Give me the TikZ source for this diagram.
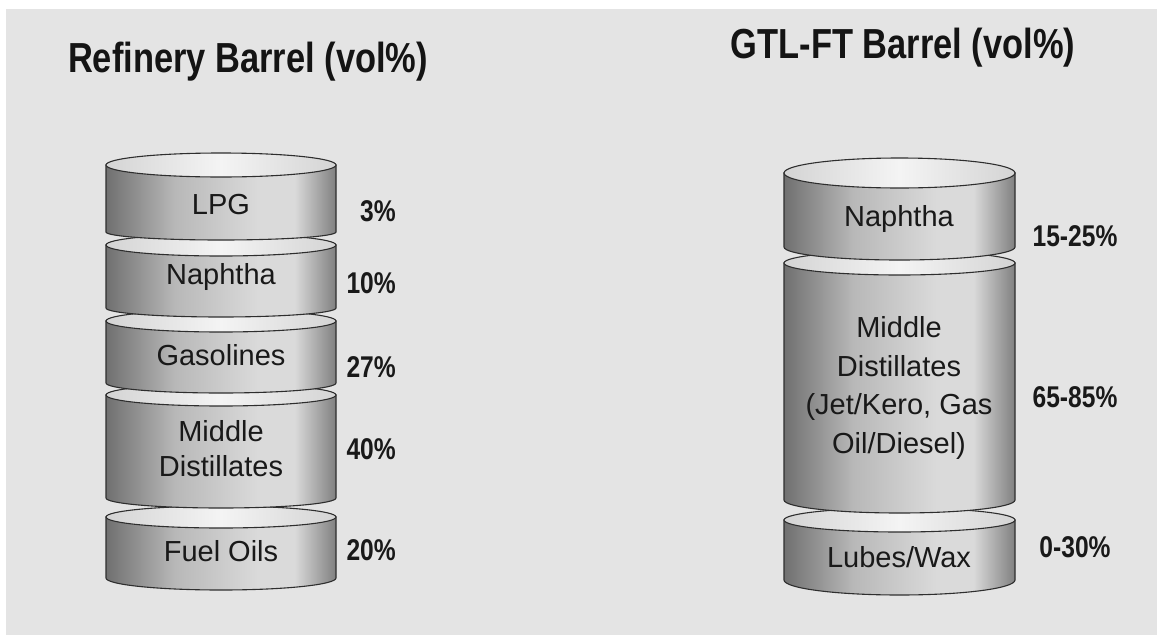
\documentclass[tikz,border=0pt]{standalone}
\usepackage{fontspec}
\setmainfont{Liberation Sans}
\newfontfamily\narrowfont[FakeStretch=0.82]{Liberation Sans}
\definecolor{bgc}{HTML}{E4E4E4}
\definecolor{sideL}{HTML}{707070}
\definecolor{sideM}{HTML}{B8B8B8}
\definecolor{sideH}{HTML}{DADADA}
\definecolor{sideR}{HTML}{808080}
\definecolor{topL}{HTML}{D4D4D4}
\definecolor{topH}{HTML}{F4F4F4}
\definecolor{edgec}{HTML}{2E2E2E}
\pgfdeclarehorizontalshading{barrelshade}{100bp}{color(0bp)=(sideL); color(25bp)=(sideL); color(40bp)=(sideM); color(58bp)=(sideH); color(66bp)=(sideH); color(75bp)=(sideR); color(100bp)=(sideR)}
\pgfdeclarehorizontalshading{topshade}{100bp}{color(0bp)=(topL); color(25bp)=(topL); color(50bp)=(topH); color(75bp)=(topL); color(100bp)=(topL)}
\tikzset{
  sidepart/.style={shading=barrelshade, draw=edgec, line width=1.1pt},
  toppart/.style={shading=topshade, draw=edgec, line width=1.1pt},
  lbl/.style={font=\fontsize{29}{35}\selectfont, text=black!90, align=center, inner sep=0pt},
  pct/.style={font=\narrowfont\bfseries\fontsize{30}{34}\selectfont, text=black!90, inner sep=0pt},
  ttl/.style={font=\narrowfont\bfseries\fontsize{42}{46}\selectfont, text=black!92, inner sep=0pt}
}
% #1 xL, #2 xR, #3 top centre y, #4 bottom side y, #5 top ry, #6 bottom ry
\newcommand{\barrelseg}[6]{%
  \pgfmathsetmacro{\rxx}{(#2-#1)/2}%
  \pgfmathsetmacro{\xcc}{(#1+#2)/2}%
  \path[sidepart] (#1,#3) -- (#1,#4) arc[start angle=180, end angle=360, x radius=\rxx pt, y radius=#6pt] -- (#2,#3) -- cycle;
  \path[toppart] (\xcc,#3) ellipse[x radius=\rxx pt, y radius=#5pt];
}
\begin{document}
\begin{tikzpicture}[x=1pt, y=-1pt]
\useasboundingbox (0,0) rectangle (1157,635);
\fill[white] (0,0) rectangle (1157,635);
\fill[bgc] (6,9) rectangle (1157,635);

% Left barrel (bottom segment first)
\barrelseg{106}{336}{517}{578}{11}{12}
\barrelseg{106}{336}{395}{498}{11}{10}
\barrelseg{106}{336}{321}{383}{11}{10}
\barrelseg{106}{336}{245}{308}{11}{9}
\barrelseg{106}{336}{165}{232}{12}{8}

% Right barrel
\barrelseg{784}{1015}{520}{580}{12}{15}
\barrelseg{784}{1015}{263}{500}{12}{13}
\barrelseg{784}{1015}{173}{247}{15}{13}

% Titles
\node[ttl] (t1) at (248,62) {Refinery Barrel (vol\%)};
\node[ttl] (t2) at (903,48) {GTL-FT Barrel (vol\%)};

% Left labels
\node[lbl] (lpg) at (221,205) {LPG};
\node[lbl] (nap) at (221,277) {Naphtha};
\node[lbl] (gas) at (221,355) {Gasolines};
\node[lbl] (mid) at (221,449) {Middle\\Distillates};
\node[lbl] (fuel) at (221,551) {Fuel Oils};

\node[pct, anchor=east] (p1) at (396,211) {3\%};
\node[pct, anchor=east] (p2) at (396,283) {10\%};
\node[pct, anchor=east] (p3) at (396,367) {27\%};
\node[pct, anchor=east] (p4) at (396,449) {40\%};
\node[pct, anchor=east] (p5) at (396,550) {20\%};

% Right labels
\node[lbl] (rnap) at (899,219) {Naphtha};
\node[lbl, font=\fontsize{29}{38.5}\selectfont] (rmid) at (899,388) {Middle\\Distillates\\(Jet/Kero, Gas\\Oil/Diesel)};
\node[lbl] (rlub) at (899,557) {Lubes/Wax};

\node[pct] (q1) at (1075,236) {15-25\%};
\node[pct] (q2) at (1075,397) {65-85\%};
\node[pct] (q3) at (1075,547) {0-30\%};
\end{tikzpicture}
\end{document}
